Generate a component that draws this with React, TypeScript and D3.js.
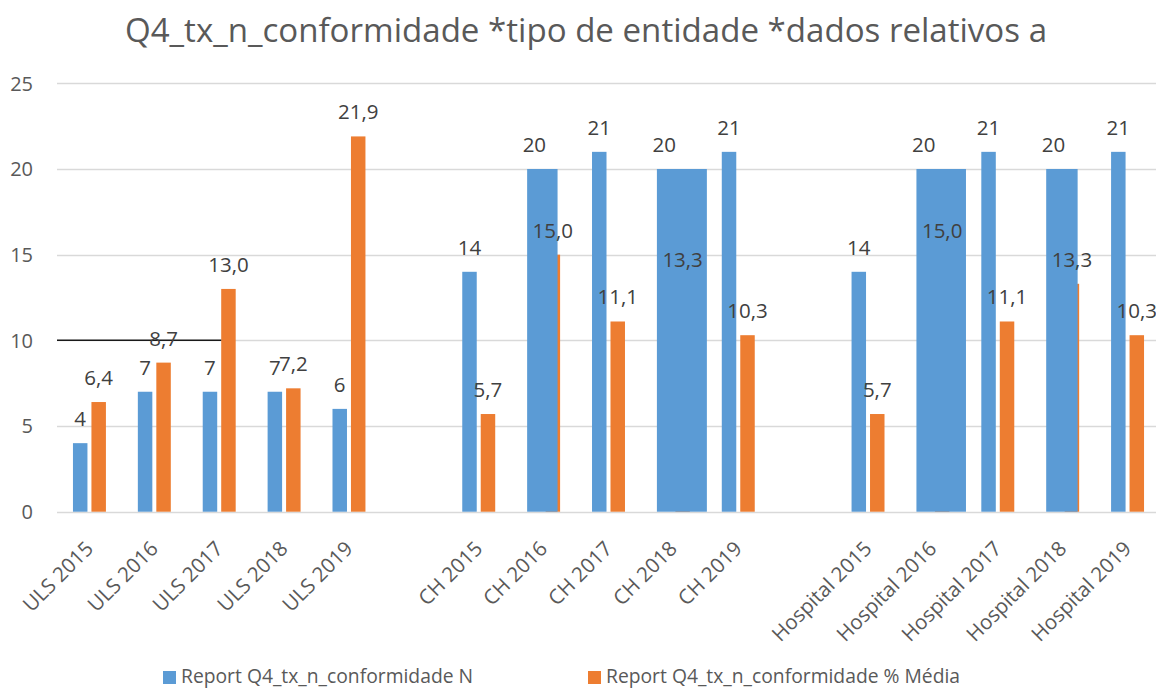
import React, { useRef, useEffect } from 'react';
import * as d3 from 'd3';

// Category slots (empty slots are the gaps between entity types)
const categories = [
  'ULS 2015', 'ULS 2016', 'ULS 2017', 'ULS 2018', 'ULS 2019',
  'gap-1',
  'CH 2015', 'CH 2016', 'CH 2017', 'CH 2018', 'CH 2019',
  'gap-2',
  'Hospital 2015', 'Hospital 2016', 'Hospital 2017', 'Hospital 2018', 'Hospital 2019',
];

const labelled = categories.filter(c => !c.startsWith('gap'));

// Report Q4_tx_n_conformidade N
const nValues = [4, 7, 7, 7, 6, 14, 20, 21, 20, 21, 14, 20, 21, 20, 21];
// Report Q4_tx_n_conformidade % Média
const mediaValues = [6.4, 8.7, 13.0, 7.2, 21.9, 5.7, 15.0, 11.1, 13.3, 10.3, 5.7, 15.0, 11.1, 13.3, 10.3];

// the blue bars render wider than normal in a few slots (as in the source picture)
const blueWidthFactor = [1, 1, 1, 1, 1, 1, 2.1, 1, 3.45, 1, 1, 3.42, 1, 2.17, 1];

const yTicks = [0, 5, 10, 15, 20, 25];
const seriesNames = ['Report Q4_tx_n_conformidade N', 'Report Q4_tx_n_conformidade % Média'];
const seriesColors = ['#5B9BD5', '#ED7D31'];

const title = 'Q4_tx_n_conformidade *tipo de entidade *dados relativos a';

// stray black line drawn at 10 up to ULS 2017
const strayLine = { value: 10, until: 'ULS 2017' };

const FONT = '"Open Sans", Lato, sans-serif';
const width = 1156;
const height = 688;

const App = () => {
  const ref = useRef<SVGSVGElement>(null);

  useEffect(() => {
    const svg = d3.select(ref.current);
    svg.selectAll('*').remove();

    const x = d3.scaleBand<string>().domain(categories).range([57, 1160]).paddingInner(0).paddingOuter(0);
    const bw = x.bandwidth();
    const inner = d3.scaleBand<string>()
      .domain(['N', 'M'])
      .range([bw * 0.246, bw * 0.754])
      .paddingInner(0.216);
    const y = d3.scaleLinear().domain([0, 25]).range([511.7, 83.3]);

    // gridlines
    svg.append('g')
      .selectAll('line')
      .data(yTicks)
      .enter()
      .append('line')
      .attr('x1', 57)
      .attr('x2', width)
      .attr('y1', d => Math.round(y(d)) + 0.5)
      .attr('y2', d => Math.round(y(d)) + 0.5)
      .attr('stroke', '#D9D9D9')
      .attr('stroke-width', 1.3);

    // y tick labels
    svg.append('g')
      .selectAll('text')
      .data(yTicks)
      .enter()
      .append('text')
      .attr('x', 33)
      .attr('y', d => y(d))
      .attr('dy', '0.36em')
      .attr('text-anchor', 'end')
      .attr('font-family', FONT)
      .attr('font-size', 20)
      .attr('fill', '#595959')
      .text(d => d);

    // orange bars first, blue ones on top
    svg.append('g')
      .selectAll('rect')
      .data(labelled)
      .enter()
      .append('rect')
      .attr('x', c => (x(c) as number) + (inner('M') as number))
      .attr('y', (c, i) => y(mediaValues[i]))
      .attr('width', inner.bandwidth())
      .attr('height', (c, i) => y(0) - y(mediaValues[i]))
      .attr('fill', seriesColors[1]);

    svg.append('g')
      .selectAll('rect')
      .data(labelled)
      .enter()
      .append('rect')
      .attr('x', c => (x(c) as number) + (inner('N') as number))
      .attr('y', (c, i) => y(nValues[i]))
      .attr('width', (c, i) => inner.bandwidth() * blueWidthFactor[i])
      .attr('height', (c, i) => y(0) - y(nValues[i]))
      .attr('fill', seriesColors[0]);

    // stray line
    svg.append('line')
      .attr('x1', 57)
      .attr('x2', (x(strayLine.until) as number) + (inner('M') as number))
      .attr('y1', y(strayLine.value))
      .attr('y2', y(strayLine.value))
      .attr('stroke', '#1a1a1a')
      .attr('stroke-width', 1.5);

    // value labels
    const fmt = (v: number) => v.toFixed(1).replace('.', ',');
    const labels = svg.append('g')
      .attr('font-family', FONT)
      .attr('font-size', 20.5)
      .attr('fill', '#404040')
      .attr('text-anchor', 'middle');

    labels.selectAll('.lbl-n')
      .data(labelled)
      .enter()
      .append('text')
      .attr('class', 'lbl-n')
      .attr('x', c => (x(c) as number) + (inner('N') as number) + inner.bandwidth() / 2)
      .attr('y', (c, i) => y(nValues[i]) - 17)
      .text((c, i) => nValues[i]);

    labels.selectAll('.lbl-m')
      .data(labelled)
      .enter()
      .append('text')
      .attr('class', 'lbl-m')
      .attr('x', c => (x(c) as number) + (inner('M') as number) + inner.bandwidth() / 2)
      .attr('y', (c, i) => y(mediaValues[i]) - 17)
      .text((c, i) => fmt(mediaValues[i]));

    // x category labels, rotated
    svg.append('g')
      .selectAll('text')
      .data(labelled)
      .enter()
      .append('text')
      .attr('transform', c => `translate(${(x(c) as number) + bw / 2 + 5},${550}) rotate(-45)`)
      .attr('text-anchor', 'end')
      .attr('font-family', FONT)
      .attr('font-size', 20.5)
      .attr('fill', '#595959')
      .text(c => c);

    // title
    svg.append('text')
      .attr('x', 586)
      .attr('y', 41.5)
      .attr('text-anchor', 'middle')
      .attr('font-family', FONT)
      .attr('font-size', 33.1)
      .attr('fill', '#595959')
      .text(title);

    // legend
    const legendX = [163, 588];
    const legend = svg.append('g');
    seriesNames.forEach((name, i) => {
      legend.append('rect')
        .attr('x', legendX[i])
        .attr('y', 671)
        .attr('width', 13)
        .attr('height', 13)
        .attr('fill', seriesColors[i]);
      legend.append('text')
        .attr('x', legendX[i] + 18)
        .attr('y', 682.5)
        .attr('font-family', FONT)
        .attr('font-size', 19.3)
        .attr('fill', '#595959')
        .text(name);
    });
  }, []);

  return (
    <svg
      ref={ref}
      width={width}
      height={height}
      style={{ position: 'absolute', left: 0, top: 0, background: '#fff' }}
    />
  );
};

export default App;
